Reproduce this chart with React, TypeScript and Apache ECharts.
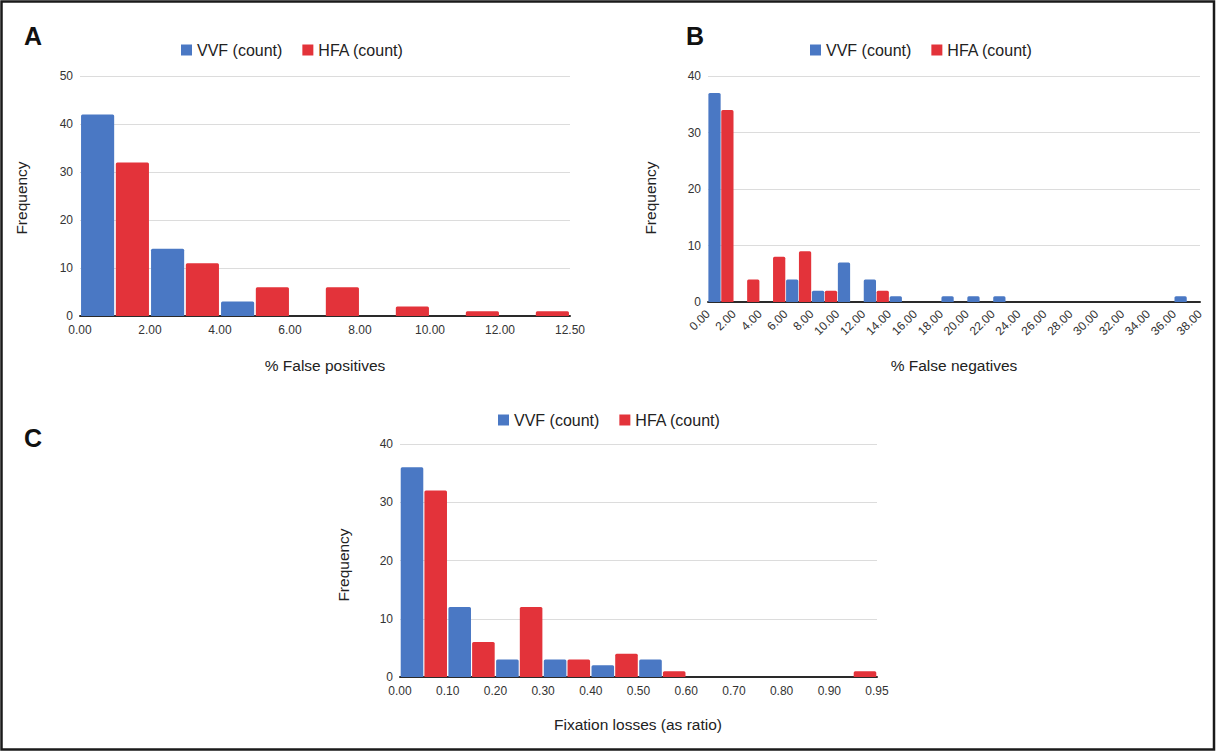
import { useEffect, useRef } from 'react'
import * as echarts from 'echarts'

// bin edges (tick labels) and counts per bin
const edgesA = ['0.00', '2.00', '4.00', '6.00', '8.00', '10.00', '12.00', '12.50']
const vvfA = [42, 14, 3, 0, 0, 0, 0]
const hfaA = [32, 11, 6, 6, 2, 1, 1]

const edgesB = [
  '0.00', '2.00', '4.00', '6.00', '8.00', '10.00', '12.00', '14.00', '16.00', '18.00',
  '20.00', '22.00', '24.00', '26.00', '28.00', '30.00', '32.00', '34.00', '36.00', '38.00',
]
const vvfB = [37, 0, 0, 4, 2, 7, 4, 1, 0, 1, 1, 1, 0, 0, 0, 0, 0, 0, 1]
const hfaB = [34, 4, 8, 9, 2, 0, 2, 0, 0, 0, 0, 0, 0, 0, 0, 0, 0, 0, 0]

const edgesC = ['0.00', '0.10', '0.20', '0.30', '0.40', '0.50', '0.60', '0.70', '0.80', '0.90', '0.95']
const vvfC = [36, 12, 3, 3, 2, 3, 0, 0, 0, 0]
const hfaC = [32, 6, 12, 3, 4, 1, 0, 0, 0, 1]

const yMax = [50, 40, 40]

const BLUE = '#4a78c4'
const RED = '#e3333a'
const FONT = '"Liberation Sans", Arial, sans-serif'
const NAMES = ['VVF (count)', 'HFA (count)']

const grids = [
  { left: 80, top: 76, width: 490, height: 240 },
  { left: 708, top: 76, width: 492, height: 226 },
  { left: 400, top: 444, width: 477, height: 233 },
]

export default function App() {
  const ref = useRef<HTMLDivElement>(null)

  useEffect(() => {
    if (!ref.current) return
    const chart = echarts.init(ref.current, undefined, { renderer: 'svg' })

    const panels = [
      { edges: edgesA, vvf: vvfA, hfa: hfaA, rotate: 0 },
      { edges: edgesB, vvf: vvfB, hfa: hfaB, rotate: 45 },
      { edges: edgesC, vvf: vvfC, hfa: hfaC, rotate: 0 },
    ]

    const xAxis: any[] = []
    const yAxis: any[] = []
    const series: any[] = []
    panels.forEach((p, i) => {
      // bins axis: carries the bars and the dark baseline
      xAxis.push({
        type: 'category',
        gridIndex: i,
        data: p.vvf.map((_, k) => p.edges[k]),
        boundaryGap: true,
        axisLine: { show: true, onZero: false, lineStyle: { color: '#2a2a2a', width: 2 } },
        axisTick: { show: false },
        axisLabel: { show: false },
        splitLine: { show: false },
      })
      // edges axis: labels sit on the bin boundaries
      xAxis.push({
        type: 'category',
        gridIndex: i,
        position: 'bottom',
        data: p.edges,
        boundaryGap: false,
        axisLine: { show: false, onZero: false },
        axisTick: { show: false },
        splitLine: { show: false },
        axisLabel: {
          interval: 0,
          rotate: p.rotate,
          margin: p.rotate ? 10 : 8,
          fontSize: 12,
          color: '#333',
          fontFamily: FONT,
        },
      })
      yAxis.push({
        type: 'value',
        gridIndex: i,
        min: 0,
        max: yMax[i],
        interval: 10,
        axisLine: { show: false },
        axisTick: { show: false },
        axisLabel: { fontSize: 12, color: '#333', margin: 7, fontFamily: FONT },
        splitLine: { lineStyle: { color: '#dcdcdc', width: 1 } },
      })
      series.push(
        {
          name: NAMES[0],
          type: 'bar',
          xAxisIndex: i * 2,
          yAxisIndex: i,
          data: p.vvf,
          barGap: '5%',
          barCategoryGap: '3%',
          itemStyle: { color: BLUE, borderRadius: [1.5, 1.5, 0, 0] },
        },
        {
          name: NAMES[1],
          type: 'bar',
          xAxisIndex: i * 2,
          yAxisIndex: i,
          data: p.hfa,
          barGap: '5%',
          barCategoryGap: '3%',
          itemStyle: { color: RED, borderRadius: [1.5, 1.5, 0, 0] },
        },
      )
    })

    const legendBase = {
      data: NAMES,
      icon: 'rect',
      itemWidth: 11,
      itemHeight: 11,
      itemGap: 20,
      padding: 0,
      selectedMode: false,
      textStyle: { fontSize: 16, color: '#222', fontFamily: FONT },
    }

    const title = (text: string, x: number, y: number, rot = 0) => ({
      type: 'text',
      x,
      y,
      rotation: rot,
      style: {
        text,
        fontSize: 15.5,
        fontFamily: FONT,
        fill: '#222',
        textAlign: 'center',
        textVerticalAlign: 'middle',
      },
    })
    const letter = (text: string, x: number, y: number) => ({
      type: 'text',
      x,
      y,
      style: {
        text,
        fontSize: 25,
        fontWeight: 'bold',
        fontFamily: FONT,
        fill: '#111',
        textAlign: 'left',
        textVerticalAlign: 'middle',
      },
    })

    chart.setOption({
      animation: false,
      backgroundColor: '#fff',
      grid: grids.map((g) => ({ ...g, containLabel: false })),
      xAxis,
      yAxis,
      series,
      legend: [
        { ...legendBase, left: 181, top: 42 },
        { ...legendBase, left: 810, top: 42 },
        { ...legendBase, left: 498, top: 412 },
      ],
      graphic: [
        {
          type: 'rect',
          shape: { x: 1.5, y: 1.5, width: 1212.5, height: 748 },
          style: { fill: 'none', stroke: '#1a1a1a', lineWidth: 2.5 },
        },
        letter('A', 24, 36),
        letter('B', 686, 36),
        letter('C', 24, 438),
        title('Frequency', 21, 198, Math.PI / 2),
        title('Frequency', 650, 198, Math.PI / 2),
        title('Frequency', 343, 565, Math.PI / 2),
        title('% False positives', 325, 365),
        title('% False negatives', 954, 365),
        title('Fixation losses (as ratio)', 638, 724),
      ],
    })

    return () => chart.dispose()
  }, [])

  return (
    <div
      ref={ref}
      style={{ position: 'fixed', left: 0, top: 0, width: 1217, height: 753, background: '#fff' }}
    />
  )
}
